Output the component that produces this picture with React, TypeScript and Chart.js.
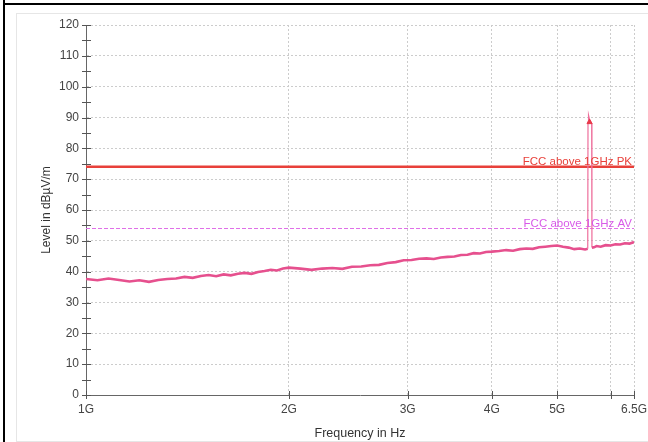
import React, { useEffect, useRef } from "react";
import { Chart, registerables } from "chart.js";

Chart.register(...registerables);

// Frequency in GHz
const freqGHz = [
  1.0, 1.04, 1.08, 1.12, 1.16, 1.2, 1.24, 1.28, 1.32, 1.36, 1.4, 1.44, 1.48, 1.52, 1.56, 1.6, 1.64, 1.68, 1.72, 1.76, 1.8,
  1.84, 1.88, 1.92, 1.96, 2.0,
  2.08, 2.16, 2.24, 2.32, 2.4, 2.48, 2.56, 2.64, 2.72, 2.8, 2.88, 2.96, 3.04, 3.12, 3.2, 3.28, 3.36, 3.44, 3.52, 3.6, 3.68,
  3.76, 3.84, 3.92, 4.0,
  4.1, 4.2, 4.3, 4.4, 4.5, 4.6, 4.7, 4.8, 4.9, 5.0, 5.1, 5.2, 5.3, 5.4, 5.5,
  5.55, 5.555, 5.565, 5.59, 5.625, 5.63,
  5.67, 5.72, 5.8, 5.9, 6.0, 6.1, 6.2, 6.3, 6.4, 6.5,
];

// Measured level in dBµV/m
const levelDb = [
  37.6, 37.2, 37.8, 37.3, 36.8, 37.2, 36.7, 37.3, 37.6, 37.8, 38.3, 38.0, 38.6, 38.9, 38.5, 39.1, 38.8, 39.3, 39.6, 39.3, 39.9,
  40.2, 40.6, 40.4, 41.0, 41.3,
  41.0, 40.6, 41.0, 41.2, 40.9, 41.6, 41.7, 42.1, 42.2, 42.8, 43.1, 43.7, 43.8, 44.2, 44.3, 44.1, 44.6, 44.8, 44.9, 45.4, 45.5,
  46.0, 45.9, 46.4, 46.5,
  46.7, 47.0, 46.8, 47.3, 47.5, 47.4, 47.9, 48.1, 48.3, 48.5, 48.1, 47.8, 47.3, 47.5, 47.2,
  47.4, 88.5, 90.8, 89.0, 88.0, 47.8,
  47.9, 48.3, 48.1, 48.6, 48.5, 48.9, 48.8, 49.2, 49.1, 49.6,
];

const pkLimit = 74;
const avLimit = 54;
const pkLabel = "FCC above 1GHz PK";
const avLabel = "FCC above 1GHz AV";

const markerFreq = [5.585];
const markerLevel = [88.5];

const xTicks = [1, 2, 3, 4, 5, 6, 6.5];
const xTickLabels = ["1G", "2G", "3G", "4G", "5G", "", "6.5G"];

const xMin = 1;
const xMax = 6.5;
const yMin = 0;
const yMax = 120;

const FONT = '"Liberation Sans", Arial, sans-serif';

const decorPlugin = {
  id: "decor",
  afterDatasetsDraw(chart: any) {
    const { ctx, chartArea, scales } = chart;
    const xs = scales.x;
    const ys = scales.y;
    ctx.save();
    ctx.strokeStyle = "#555";
    ctx.lineWidth = 1;
    for (let v = yMin; v <= yMax; v += 5) {
      const py = Math.round(ys.getPixelForValue(v)) + 0.5;
      ctx.beginPath();
      ctx.moveTo(chartArea.left - 4, py);
      ctx.lineTo(chartArea.left + 5, py);
      ctx.stroke();
    }
    for (const v of xTicks) {
      const px = Math.round(xs.getPixelForValue(v)) + 0.5;
      ctx.beginPath();
      ctx.moveTo(px, chartArea.bottom - 4);
      ctx.lineTo(px, chartArea.bottom + 4);
      ctx.stroke();
    }
    ctx.font = "11.5px " + FONT;
    ctx.textAlign = "right";
    ctx.textBaseline = "alphabetic";
    const rx = xs.getPixelForValue(xMax) - 2;
    ctx.fillStyle = "#e8403a";
    ctx.fillText(pkLabel, rx, ys.getPixelForValue(pkLimit) - 2);
    ctx.fillStyle = "#d85ae8";
    ctx.fillText(avLabel, rx, ys.getPixelForValue(avLimit) - 2);
    ctx.restore();
  },
};

export default function App() {
  const canvasRef = useRef<HTMLCanvasElement | null>(null);

  useEffect(() => {
    const canvas = canvasRef.current;
    if (!canvas) return;
    const chart = new Chart(canvas, {
      type: "line",
      data: {
        datasets: [
          {
            type: "scatter",
            data: markerFreq.map((f, i) => ({ x: f, y: markerLevel[i] })),
            pointStyle: "triangle",
            pointRadius: 3,
            backgroundColor: "#e83a4a",
            borderColor: "#e83a4a",
            borderWidth: 1,
            order: 0,
          } as any,
          {
            data: freqGHz.map((f, i) => ({ x: f, y: levelDb[i] })),
            borderColor: "#e6508e",
            borderWidth: 2.6,
            pointRadius: 0,
            tension: 0,
            order: 1,
            segment: {
              borderWidth: (c: any) => (c.p0.parsed.y > 60 || c.p1.parsed.y > 60 ? 1.2 : 2.6),
              borderColor: (c: any) => (c.p0.parsed.y > 60 || c.p1.parsed.y > 60 ? "#ee6f9c" : "#e6508e"),
            },
          },
          {
            data: [
              { x: xMin, y: pkLimit },
              { x: xMax, y: pkLimit },
            ],
            borderColor: "#e8403a",
            borderWidth: 2.5,
            pointRadius: 0,
            order: 2,
          },
          {
            data: [
              { x: xMin, y: avLimit },
              { x: xMax, y: avLimit },
            ],
            borderColor: "#e070e8",
            borderWidth: 1,
            borderDash: [4, 2],
            pointRadius: 0,
            order: 3,
          },
        ],
      },
      options: {
        animation: false,
        responsive: false,
        maintainAspectRatio: false,
        layout: { padding: { top: 25, right: 14, bottom: 0, left: 0 } },
        plugins: {
          legend: { display: false },
          tooltip: { enabled: false },
        },
        scales: {
          x: {
            type: "logarithmic",
            min: xMin,
            max: xMax,
            afterBuildTicks: (s: any) => {
              s.ticks = xTicks.map((v) => ({ value: v }));
            },
            afterFit: (s: any) => {
              s.height = 47;
              s.paddingLeft = 0;
              s.paddingRight = 10;
            },
            ticks: {
              autoSkip: false,
              maxRotation: 0,
              padding: 7,
              color: "#444",
              font: { family: FONT, size: 12 },
              callback: (v: any) => {
                const i = xTicks.indexOf(Number(v));
                return i >= 0 ? xTickLabels[i] : "";
              },
            },
            grid: {
              drawTicks: false,
              color: (c: any) => (c.tick && c.tick.value === xMin ? "rgba(0,0,0,0)" : "#cccccc"),
              lineWidth: 1,
            },
            border: { display: true, color: "#666", width: 1, dash: [2, 2] },
            title: {
              display: true,
              text: "Frequency in Hz",
              color: "#333",
              font: { family: FONT, size: 12.5 },
              padding: { top: 0, bottom: 1 },
            },
          },
          y: {
            type: "linear",
            min: yMin,
            max: yMax,
            afterFit: (s: any) => {
              s.width = 86;
            },
            ticks: {
              stepSize: 5,
              padding: 7,
              color: "#444",
              font: { family: FONT, size: 12 },
              callback: (v: any) => (Number(v) % 10 === 0 ? String(v) : ""),
            },
            grid: {
              drawTicks: false,
              color: (c: any) => (c.tick && c.tick.value === yMin ? "rgba(0,0,0,0)" : "#cccccc"),
              lineWidth: 1,
            },
            border: { display: true, color: "#666", width: 1, dash: [2, 2] },
            title: {
              display: true,
              text: "Level in dBµV/m",
              color: "#333",
              font: { family: FONT, size: 12 },
              padding: { top: 39, bottom: 0 },
            },
          },
        },
      },
      plugins: [decorPlugin],
    } as any);
    return () => chart.destroy();
  }, []);

  return (
    <div style={{ position: "absolute", left: 0, top: 0, width: 648, height: 442, overflow: "hidden", background: "#fff" }}>
      <div style={{ position: "absolute", left: 3, top: 0, width: 2, height: 442, background: "#000" }} />
      <div style={{ position: "absolute", left: 3, top: 3, width: 645, height: 2, background: "#000" }} />
      <div
        style={{
          position: "absolute",
          left: 16,
          top: 13,
          width: 700,
          height: 427,
          border: "1px solid #e6e6e6",
          background: "#fff",
        }}
      />
      <canvas
        ref={canvasRef}
        width={648}
        height={442}
        style={{ position: "absolute", left: 0, top: 0, width: 648, height: 442 }}
      />
    </div>
  );
}
